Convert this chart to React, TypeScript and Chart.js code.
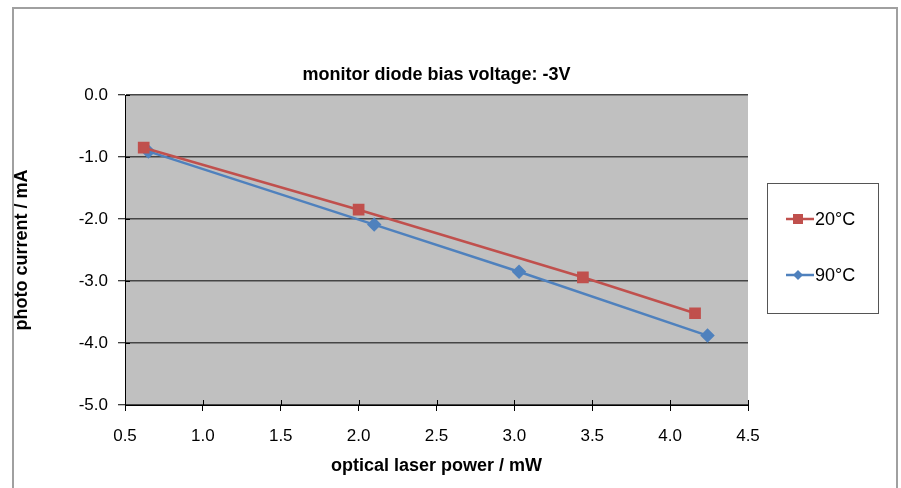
import React, { useEffect, useRef } from "react";
import { Chart, registerables } from "chart.js";

Chart.register(...registerables);

const power20: number[] = [0.62, 2.0, 3.44, 4.16];
const current20: number[] = [-0.85, -1.85, -2.94, -3.52];
const power90: number[] = [0.65, 2.1, 3.03, 4.24];
const current90: number[] = [-0.91, -2.09, -2.85, -3.88];
const seriesLabels: string[] = ["20°C", "90°C"];
const titleText = "monitor diode bias voltage: -3V";
const xTitle = "optical laser power / mW";
const yTitle = "photo current / mA";

const FONT = "'Liberation Sans', Arial, sans-serif";
const RED = "#C0504D";
const BLUE = "#4F81BD";

const plotBg = {
  id: "plotBg",
  beforeDraw(chart: any) {
    const { ctx, chartArea } = chart;
    ctx.save();
    ctx.fillStyle = "#C0C0C0";
    ctx.fillRect(chartArea.left, chartArea.top, chartArea.right - chartArea.left, chartArea.bottom - chartArea.top);
    ctx.restore();
  },
};

const innerTicks = {
  id: "innerTicks",
  afterDatasetsDraw(chart: any) {
    const { ctx, chartArea, scales } = chart;
    ctx.save();
    ctx.strokeStyle = "#000";
    ctx.lineWidth = 1;
    ctx.beginPath();
    scales.y.ticks.forEach((t: any) => {
      const y = Math.round(scales.y.getPixelForValue(t.value)) + 0.5;
      ctx.moveTo(chartArea.left, y);
      ctx.lineTo(chartArea.left + 5, y);
    });
    scales.x.ticks.forEach((t: any) => {
      const x = Math.round(scales.x.getPixelForValue(t.value)) + 0.5;
      ctx.moveTo(x, chartArea.bottom);
      ctx.lineTo(x, chartArea.bottom - 5);
    });
    ctx.stroke();
    ctx.restore();
  },
};

const boxLegend = {
  id: "boxLegend",
  afterDraw(chart: any) {
    const { ctx, chartArea } = chart;
    const left = chartArea.right + 19;
    const top = chartArea.top + 88;
    const w = 111;
    const h = 130;
    ctx.save();
    ctx.strokeStyle = "#555";
    ctx.lineWidth = 1;
    ctx.strokeRect(left + 0.5, top + 0.5, w, h);
    chart.data.datasets.forEach((ds: any, i: number) => {
      const y = top + 36 + i * 56;
      ctx.strokeStyle = ds.borderColor;
      ctx.lineWidth = 2.5;
      ctx.beginPath();
      ctx.moveTo(left + 19, y);
      ctx.lineTo(left + 47, y);
      ctx.stroke();
      ctx.fillStyle = ds.pointBackgroundColor;
      ctx.beginPath();
      if (ds.pointStyle === "rect") {
        ctx.rect(left + 31 - 5, y - 5, 10, 10);
      } else {
        ctx.moveTo(left + 31, y - 5);
        ctx.lineTo(left + 36, y);
        ctx.lineTo(left + 31, y + 5);
        ctx.lineTo(left + 26, y);
        ctx.closePath();
      }
      ctx.fill();
      ctx.fillStyle = "#000";
      ctx.font = `18px ${FONT}`;
      ctx.textBaseline = "middle";
      ctx.textAlign = "left";
      ctx.fillText(ds.label, left + 48, y + 1);
    });
    ctx.restore();
  },
};

export default function App() {
  const ref = useRef<HTMLCanvasElement | null>(null);
  useEffect(() => {
    if (!ref.current) return;
    const chart = new Chart(ref.current, {
      type: "scatter",
      data: {
        datasets: [
          {
            label: seriesLabels[0],
            data: power20.map((x, i) => ({ x, y: current20[i] })),
            showLine: true,
            borderColor: RED,
            backgroundColor: RED,
            pointBackgroundColor: RED,
            pointBorderColor: RED,
            pointStyle: "rect",
            pointRadius: 6.5,
            borderWidth: 2.5,
          },
          {
            label: seriesLabels[1],
            data: power90.map((x, i) => ({ x, y: current90[i] })),
            showLine: true,
            borderColor: BLUE,
            backgroundColor: BLUE,
            pointBackgroundColor: BLUE,
            pointBorderColor: BLUE,
            pointStyle: "rectRot",
            pointRadius: 5.5,
            borderWidth: 2.5,
          },
        ],
      },
      options: {
        responsive: false,
        animation: false,
        layout: { padding: { left: 0, right: 153, top: 0, bottom: 0 } },
        plugins: {
          legend: { display: false },
          tooltip: { enabled: false },
          title: {
            display: true,
            text: titleText,
            fullSize: false,
            color: "#000",
            font: { family: FONT, size: 18, weight: "bold" },
            padding: { top: 64, bottom: 9.4 },
          },
        },
        scales: {
          x: {
            type: "linear",
            min: 0.5,
            max: 4.5,
            afterFit: (s: any) => { s.height = 83; },
            ticks: {
              stepSize: 0.5,
              color: "#000",
              font: { family: FONT, size: 17 },
              padding: 15,
              callback: (v: any) => Number(v).toFixed(1),
            },
            grid: { drawOnChartArea: false, drawTicks: true, tickLength: 6, color: "#000" },
            border: { color: "#000", width: 1 },
            title: {
              display: true,
              text: xTitle,
              color: "#000",
              font: { family: FONT, size: 18, weight: "bold" },
              padding: { top: 0, bottom: 11 },
            },
          },
          y: {
            type: "linear",
            min: -5,
            max: 0,
            afterFit: (s: any) => { s.width = 125; },
            ticks: {
              stepSize: 1,
              color: "#000",
              font: { family: FONT, size: 17 },
              padding: 10,
              callback: (v: any) => Number(v).toFixed(1),
            },
            grid: { color: "#454545", lineWidth: 1.5, tickLength: 7, tickColor: "#000", tickWidth: 1 },
            border: { color: "#000", width: 1 },
            title: {
              display: true,
              text: yTitle,
              color: "#000",
              font: { family: FONT, size: 18, weight: "bold" },
              padding: { top: 11, bottom: 0 },
            },
          },
        },
      },
      plugins: [plotBg, innerTicks, boxLegend],
    });
    return () => chart.destroy();
  }, []);
  return (
    <div style={{ position: "absolute", left: 0, top: 0, width: 901, height: 488, background: "#fff", overflow: "hidden" }}>
      <div style={{ position: "absolute", left: 12, top: 7, width: 886, height: 500, border: "2px solid #a0a0a0", boxSizing: "border-box" }} />
      <canvas ref={ref} width={901} height={488} style={{ position: "absolute", left: 0, top: 0 }} />
    </div>
  );
}
